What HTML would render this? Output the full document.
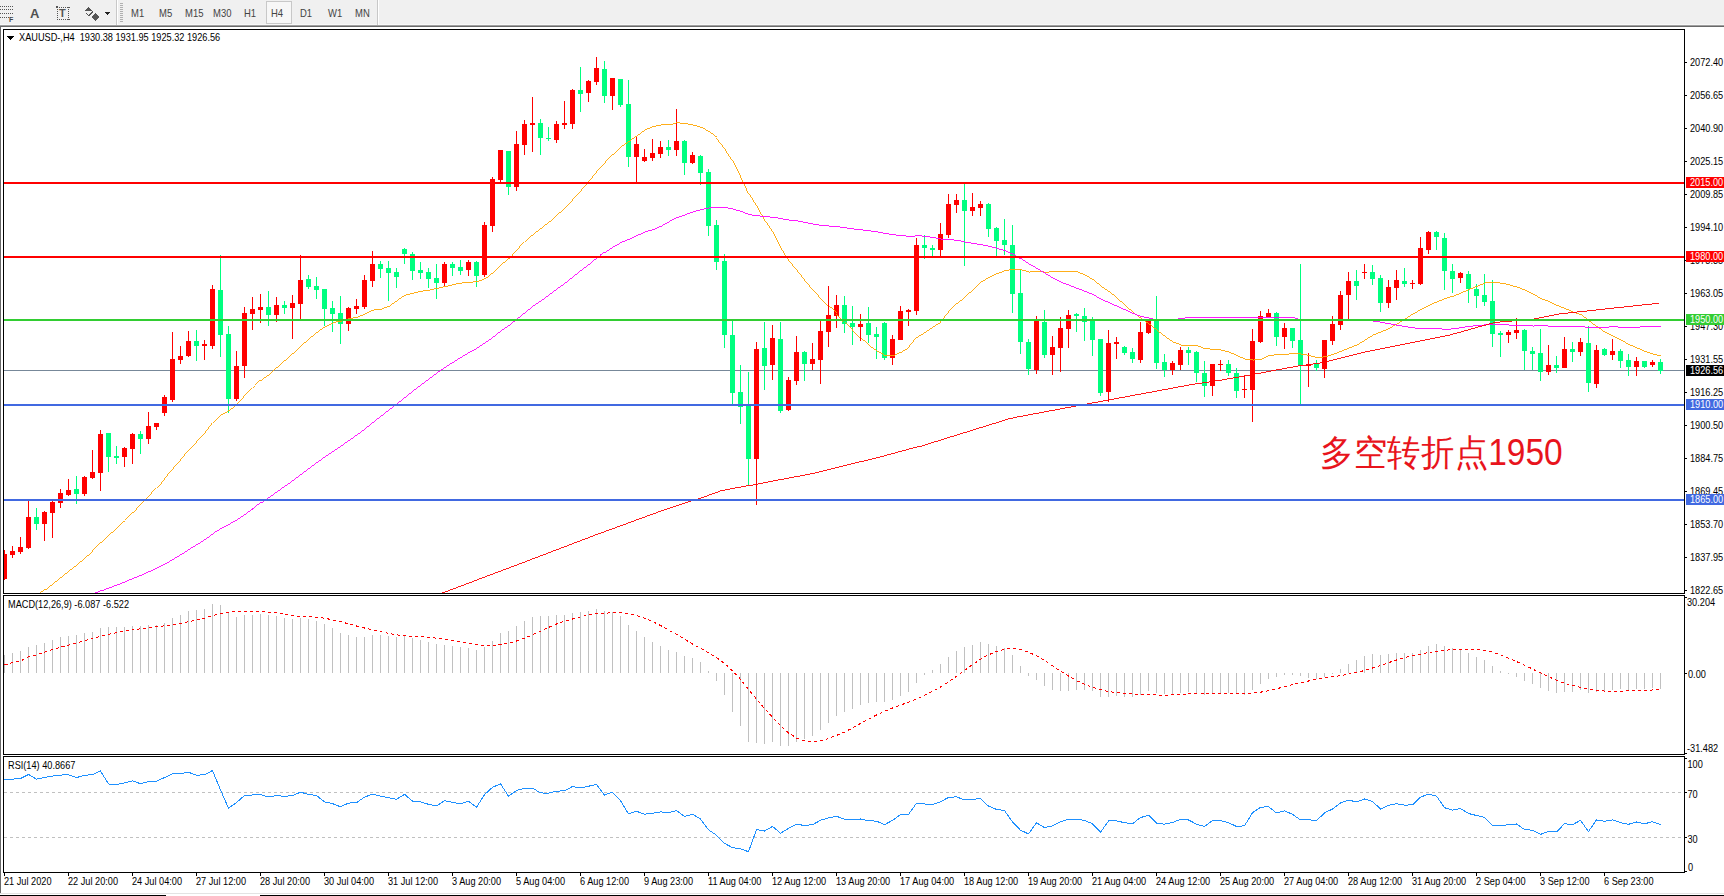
<!DOCTYPE html>
<html><head><meta charset="utf-8"><title>XAUUSD H4</title>
<style>html,body{margin:0;padding:0;width:1724px;height:896px;overflow:hidden;background:#fff;font-family:"Liberation Sans",sans-serif;}
svg text{shape-rendering:auto;}</style></head>
<body><svg width="1724" height="896" viewBox="0 0 1724 896" shape-rendering="crispEdges" style="display:block"><rect x="0" y="0" width="1724" height="896" fill="#ffffff" />
<rect x="0" y="0" width="1724" height="24" fill="#f0f0f0" />
<rect x="0" y="24" width="1724" height="1" fill="#f8f8f8" />
<rect x="0" y="25" width="1724" height="1" fill="#a0a0a0" />
<rect x="0" y="26" width="1724" height="1" fill="#696969" />
<rect x="0" y="26" width="1" height="867" fill="#696969" />
<rect x="0" y="893" width="1724" height="1" fill="#e3e3e3" />
<rect x="0" y="894" width="1724" height="1" fill="#ffffff" />
<rect x="0" y="895" width="166" height="1" fill="#000000" />
<rect x="260" y="895" width="1464" height="1" fill="#000000" />
<rect x="0" y="6" width="1" height="1" fill="#555" />
<rect x="2" y="6" width="1" height="1" fill="#555" />
<rect x="4" y="6" width="1" height="1" fill="#555" />
<rect x="6" y="6" width="1" height="1" fill="#555" />
<rect x="8" y="6" width="1" height="1" fill="#555" />
<rect x="10" y="6" width="1" height="1" fill="#555" />
<rect x="12" y="6" width="1" height="1" fill="#555" />
<rect x="0" y="9" width="1" height="1" fill="#555" />
<rect x="2" y="9" width="1" height="1" fill="#555" />
<rect x="4" y="9" width="1" height="1" fill="#555" />
<rect x="6" y="9" width="1" height="1" fill="#555" />
<rect x="8" y="9" width="1" height="1" fill="#555" />
<rect x="10" y="9" width="1" height="1" fill="#555" />
<rect x="12" y="9" width="1" height="1" fill="#555" />
<rect x="0" y="13" width="1" height="1" fill="#555" />
<rect x="2" y="13" width="1" height="1" fill="#555" />
<rect x="4" y="13" width="1" height="1" fill="#555" />
<rect x="6" y="13" width="1" height="1" fill="#555" />
<rect x="8" y="13" width="1" height="1" fill="#555" />
<rect x="10" y="13" width="1" height="1" fill="#555" />
<rect x="12" y="13" width="1" height="1" fill="#555" />
<rect x="0" y="17" width="1" height="1" fill="#555" />
<rect x="2" y="17" width="1" height="1" fill="#555" />
<rect x="4" y="17" width="1" height="1" fill="#555" />
<rect x="6" y="17" width="1" height="1" fill="#555" />
<rect x="8" y="17" width="1" height="1" fill="#555" />
<text font-family="Liberation Sans" font-size="7" fill="#444" transform="translate(9,22) scale(1,1)" font-weight="bold">F</text>
<text font-family="Liberation Sans" font-size="13" fill="#505050" transform="translate(30,18) scale(1,1)" font-weight="bold">A</text>
<rect x="57" y="7" width="1" height="1" fill="#555" />
<rect x="57" y="19" width="1" height="1" fill="#555" />
<rect x="59" y="7" width="1" height="1" fill="#555" />
<rect x="59" y="19" width="1" height="1" fill="#555" />
<rect x="61" y="7" width="1" height="1" fill="#555" />
<rect x="61" y="19" width="1" height="1" fill="#555" />
<rect x="63" y="7" width="1" height="1" fill="#555" />
<rect x="63" y="19" width="1" height="1" fill="#555" />
<rect x="65" y="7" width="1" height="1" fill="#555" />
<rect x="65" y="19" width="1" height="1" fill="#555" />
<rect x="67" y="7" width="1" height="1" fill="#555" />
<rect x="67" y="19" width="1" height="1" fill="#555" />
<rect x="69" y="7" width="1" height="1" fill="#555" />
<rect x="69" y="19" width="1" height="1" fill="#555" />
<rect x="57" y="7" width="1" height="1" fill="#555" />
<rect x="68" y="7" width="1" height="1" fill="#555" />
<rect x="57" y="9" width="1" height="1" fill="#555" />
<rect x="68" y="9" width="1" height="1" fill="#555" />
<rect x="57" y="11" width="1" height="1" fill="#555" />
<rect x="68" y="11" width="1" height="1" fill="#555" />
<rect x="57" y="13" width="1" height="1" fill="#555" />
<rect x="68" y="13" width="1" height="1" fill="#555" />
<rect x="57" y="15" width="1" height="1" fill="#555" />
<rect x="68" y="15" width="1" height="1" fill="#555" />
<rect x="57" y="17" width="1" height="1" fill="#555" />
<rect x="68" y="17" width="1" height="1" fill="#555" />
<rect x="57" y="19" width="1" height="1" fill="#555" />
<rect x="68" y="19" width="1" height="1" fill="#555" />
<rect x="56" y="6" width="2" height="2" fill="#555" />
<text font-family="Liberation Sans" font-size="11" fill="#555" transform="translate(59,17) scale(1,1)" font-weight="bold">T</text>
<path d="M84 11 L88 7 L92 11 Z M91 17 L95 13 L99 17 L95 21 Z" fill="#555"/>
<path d="M86 13 L89 16 L93 11" stroke="#555" stroke-width="1.3" fill="none"/>
<path d="M104 12 L110 12 L107 15 Z" fill="#222"/>
<rect x="116" y="0" width="1" height="25" fill="#c8c8c8" />
<rect x="117" y="0" width="1" height="25" fill="#ffffff" />
<rect x="120" y="3" width="3" height="1" fill="#b0b0b0" />
<rect x="120" y="5" width="3" height="1" fill="#b0b0b0" />
<rect x="120" y="7" width="3" height="1" fill="#b0b0b0" />
<rect x="120" y="9" width="3" height="1" fill="#b0b0b0" />
<rect x="120" y="11" width="3" height="1" fill="#b0b0b0" />
<rect x="120" y="13" width="3" height="1" fill="#b0b0b0" />
<rect x="120" y="15" width="3" height="1" fill="#b0b0b0" />
<rect x="120" y="17" width="3" height="1" fill="#b0b0b0" />
<rect x="120" y="19" width="3" height="1" fill="#b0b0b0" />
<rect x="120" y="21" width="3" height="1" fill="#b0b0b0" />
<rect x="266" y="1" width="25" height="22" fill="#f7f7f7" stroke="#c8c8c8" stroke-width="1"/>
<text font-family="Liberation Sans" font-size="10" fill="#444" transform="translate(131,17) scale(0.95,1)" >M1</text>
<text font-family="Liberation Sans" font-size="10" fill="#444" transform="translate(159,17) scale(0.95,1)" >M5</text>
<text font-family="Liberation Sans" font-size="10" fill="#444" transform="translate(185,17) scale(0.95,1)" >M15</text>
<text font-family="Liberation Sans" font-size="10" fill="#444" transform="translate(213,17) scale(0.95,1)" >M30</text>
<text font-family="Liberation Sans" font-size="10" fill="#444" transform="translate(244,17) scale(0.95,1)" >H1</text>
<text font-family="Liberation Sans" font-size="10" fill="#444" transform="translate(271,17) scale(0.95,1)" >H4</text>
<text font-family="Liberation Sans" font-size="10" fill="#444" transform="translate(300,17) scale(0.95,1)" >D1</text>
<text font-family="Liberation Sans" font-size="10" fill="#444" transform="translate(328,17) scale(0.95,1)" >W1</text>
<text font-family="Liberation Sans" font-size="10" fill="#444" transform="translate(355,17) scale(0.95,1)" >MN</text>
<rect x="377" y="0" width="1" height="25" fill="#c8c8c8" />
<rect x="378" y="0" width="1" height="25" fill="#ffffff" />
<defs><clipPath id="cm"><rect x="4" y="30" width="1680" height="563"/></clipPath><clipPath id="cd"><rect x="4" y="596" width="1680" height="158"/></clipPath><clipPath id="cr"><rect x="4" y="757" width="1680" height="115"/></clipPath></defs>
<g clip-path="url(#cm)">
<rect x="4" y="370" width="1680" height="1" fill="#778899" />
<rect x="4" y="550" width="1" height="30" fill="#ff0000"/>
<rect x="2" y="554" width="5" height="25" fill="#ff0000"/>
<rect x="12" y="546" width="1" height="12" fill="#ff0000"/>
<rect x="10" y="551" width="5" height="4" fill="#ff0000"/>
<rect x="20" y="537" width="1" height="17" fill="#ff0000"/>
<rect x="18" y="547" width="5" height="5" fill="#ff0000"/>
<rect x="28" y="501" width="1" height="48" fill="#ff0000"/>
<rect x="26" y="517" width="5" height="31" fill="#ff0000"/>
<rect x="36" y="508" width="1" height="22" fill="#00ff7f"/>
<rect x="34" y="517" width="5" height="7" fill="#00ff7f"/>
<rect x="44" y="511" width="1" height="30" fill="#ff0000"/>
<rect x="42" y="512" width="5" height="12" fill="#ff0000"/>
<rect x="52" y="501" width="1" height="37" fill="#ff0000"/>
<rect x="50" y="502" width="5" height="11" fill="#ff0000"/>
<rect x="60" y="489" width="1" height="19" fill="#ff0000"/>
<rect x="58" y="493" width="5" height="10" fill="#ff0000"/>
<rect x="68" y="479" width="1" height="17" fill="#ff0000"/>
<rect x="66" y="490" width="5" height="5" fill="#ff0000"/>
<rect x="76" y="476" width="1" height="28" fill="#00ff7f"/>
<rect x="74" y="489" width="5" height="5" fill="#00ff7f"/>
<rect x="84" y="476" width="1" height="20" fill="#ff0000"/>
<rect x="82" y="477" width="5" height="17" fill="#ff0000"/>
<rect x="92" y="450" width="1" height="29" fill="#ff0000"/>
<rect x="90" y="472" width="5" height="6" fill="#ff0000"/>
<rect x="100" y="430" width="1" height="61" fill="#ff0000"/>
<rect x="98" y="434" width="5" height="39" fill="#ff0000"/>
<rect x="108" y="433" width="1" height="39" fill="#00ff7f"/>
<rect x="106" y="433" width="5" height="24" fill="#00ff7f"/>
<rect x="116" y="446" width="1" height="18" fill="#00ff7f"/>
<rect x="114" y="456" width="5" height="2" fill="#00ff7f"/>
<rect x="124" y="447" width="1" height="20" fill="#ff0000"/>
<rect x="122" y="448" width="5" height="9" fill="#ff0000"/>
<rect x="132" y="433" width="1" height="31" fill="#ff0000"/>
<rect x="130" y="434" width="5" height="15" fill="#ff0000"/>
<rect x="140" y="431" width="1" height="23" fill="#00ff7f"/>
<rect x="138" y="434" width="5" height="5" fill="#00ff7f"/>
<rect x="148" y="412" width="1" height="32" fill="#ff0000"/>
<rect x="146" y="426" width="5" height="13" fill="#ff0000"/>
<rect x="156" y="423" width="1" height="7" fill="#ff0000"/>
<rect x="154" y="423" width="5" height="4" fill="#ff0000"/>
<rect x="164" y="395" width="1" height="21" fill="#ff0000"/>
<rect x="162" y="397" width="5" height="16" fill="#ff0000"/>
<rect x="172" y="332" width="1" height="70" fill="#ff0000"/>
<rect x="170" y="359" width="5" height="41" fill="#ff0000"/>
<rect x="180" y="346" width="1" height="18" fill="#ff0000"/>
<rect x="178" y="356" width="5" height="4" fill="#ff0000"/>
<rect x="188" y="331" width="1" height="26" fill="#ff0000"/>
<rect x="186" y="341" width="5" height="15" fill="#ff0000"/>
<rect x="196" y="330" width="1" height="31" fill="#00ff7f"/>
<rect x="194" y="341" width="5" height="5" fill="#00ff7f"/>
<rect x="204" y="340" width="1" height="20" fill="#ff0000"/>
<rect x="202" y="344" width="5" height="2" fill="#ff0000"/>
<rect x="212" y="285" width="1" height="64" fill="#ff0000"/>
<rect x="210" y="289" width="5" height="57" fill="#ff0000"/>
<rect x="220" y="255" width="1" height="102" fill="#00ff7f"/>
<rect x="218" y="290" width="5" height="45" fill="#00ff7f"/>
<rect x="228" y="326" width="1" height="87" fill="#00ff7f"/>
<rect x="226" y="334" width="5" height="65" fill="#00ff7f"/>
<rect x="236" y="351" width="1" height="50" fill="#ff0000"/>
<rect x="234" y="366" width="5" height="33" fill="#ff0000"/>
<rect x="244" y="307" width="1" height="71" fill="#ff0000"/>
<rect x="242" y="313" width="5" height="53" fill="#ff0000"/>
<rect x="252" y="297" width="1" height="33" fill="#ff0000"/>
<rect x="250" y="309" width="5" height="5" fill="#ff0000"/>
<rect x="260" y="294" width="1" height="29" fill="#ff0000"/>
<rect x="258" y="307" width="5" height="3" fill="#ff0000"/>
<rect x="268" y="291" width="1" height="35" fill="#00ff7f"/>
<rect x="266" y="307" width="5" height="8" fill="#00ff7f"/>
<rect x="276" y="297" width="1" height="25" fill="#ff0000"/>
<rect x="274" y="305" width="5" height="10" fill="#ff0000"/>
<rect x="284" y="301" width="1" height="13" fill="#00ff7f"/>
<rect x="282" y="305" width="5" height="3" fill="#00ff7f"/>
<rect x="292" y="295" width="1" height="44" fill="#ff0000"/>
<rect x="290" y="303" width="5" height="5" fill="#ff0000"/>
<rect x="300" y="255" width="1" height="64" fill="#ff0000"/>
<rect x="298" y="280" width="5" height="24" fill="#ff0000"/>
<rect x="308" y="275" width="1" height="14" fill="#00ff7f"/>
<rect x="306" y="279" width="5" height="8" fill="#00ff7f"/>
<rect x="316" y="277" width="1" height="22" fill="#00ff7f"/>
<rect x="314" y="286" width="5" height="4" fill="#00ff7f"/>
<rect x="324" y="289" width="1" height="37" fill="#00ff7f"/>
<rect x="322" y="289" width="5" height="20" fill="#00ff7f"/>
<rect x="332" y="301" width="1" height="31" fill="#00ff7f"/>
<rect x="330" y="308" width="5" height="6" fill="#00ff7f"/>
<rect x="340" y="296" width="1" height="48" fill="#00ff7f"/>
<rect x="338" y="313" width="5" height="11" fill="#00ff7f"/>
<rect x="348" y="307" width="1" height="24" fill="#ff0000"/>
<rect x="346" y="308" width="5" height="16" fill="#ff0000"/>
<rect x="356" y="299" width="1" height="15" fill="#ff0000"/>
<rect x="354" y="306" width="5" height="3" fill="#ff0000"/>
<rect x="364" y="275" width="1" height="34" fill="#ff0000"/>
<rect x="362" y="280" width="5" height="27" fill="#ff0000"/>
<rect x="372" y="251" width="1" height="36" fill="#ff0000"/>
<rect x="370" y="264" width="5" height="17" fill="#ff0000"/>
<rect x="380" y="261" width="1" height="17" fill="#00ff7f"/>
<rect x="378" y="264" width="5" height="5" fill="#00ff7f"/>
<rect x="388" y="261" width="1" height="40" fill="#00ff7f"/>
<rect x="386" y="268" width="5" height="5" fill="#00ff7f"/>
<rect x="396" y="268" width="1" height="20" fill="#00ff7f"/>
<rect x="394" y="272" width="5" height="5" fill="#00ff7f"/>
<rect x="404" y="248" width="1" height="16" fill="#00ff7f"/>
<rect x="402" y="249" width="5" height="5" fill="#00ff7f"/>
<rect x="412" y="252" width="1" height="28" fill="#00ff7f"/>
<rect x="410" y="254" width="5" height="17" fill="#00ff7f"/>
<rect x="420" y="262" width="1" height="17" fill="#00ff7f"/>
<rect x="418" y="270" width="5" height="3" fill="#00ff7f"/>
<rect x="428" y="268" width="1" height="20" fill="#00ff7f"/>
<rect x="426" y="272" width="5" height="7" fill="#00ff7f"/>
<rect x="436" y="264" width="1" height="35" fill="#00ff7f"/>
<rect x="434" y="278" width="5" height="5" fill="#00ff7f"/>
<rect x="444" y="262" width="1" height="24" fill="#ff0000"/>
<rect x="442" y="264" width="5" height="19" fill="#ff0000"/>
<rect x="452" y="262" width="1" height="14" fill="#00ff7f"/>
<rect x="450" y="264" width="5" height="4" fill="#00ff7f"/>
<rect x="460" y="260" width="1" height="15" fill="#00ff7f"/>
<rect x="458" y="267" width="5" height="4" fill="#00ff7f"/>
<rect x="468" y="260" width="1" height="16" fill="#ff0000"/>
<rect x="466" y="262" width="5" height="8" fill="#ff0000"/>
<rect x="476" y="261" width="1" height="26" fill="#00ff7f"/>
<rect x="474" y="262" width="5" height="14" fill="#00ff7f"/>
<rect x="484" y="222" width="1" height="55" fill="#ff0000"/>
<rect x="482" y="225" width="5" height="50" fill="#ff0000"/>
<rect x="492" y="177" width="1" height="55" fill="#ff0000"/>
<rect x="490" y="179" width="5" height="47" fill="#ff0000"/>
<rect x="500" y="150" width="1" height="34" fill="#ff0000"/>
<rect x="498" y="150" width="5" height="30" fill="#ff0000"/>
<rect x="508" y="151" width="1" height="44" fill="#00ff7f"/>
<rect x="506" y="151" width="5" height="36" fill="#00ff7f"/>
<rect x="516" y="131" width="1" height="60" fill="#ff0000"/>
<rect x="514" y="144" width="5" height="43" fill="#ff0000"/>
<rect x="524" y="120" width="1" height="35" fill="#ff0000"/>
<rect x="522" y="124" width="5" height="21" fill="#ff0000"/>
<rect x="532" y="97" width="1" height="55" fill="#ff0000"/>
<rect x="530" y="123" width="5" height="2" fill="#ff0000"/>
<rect x="540" y="119" width="1" height="36" fill="#00ff7f"/>
<rect x="538" y="123" width="5" height="15" fill="#00ff7f"/>
<rect x="548" y="127" width="1" height="14" fill="#00ff7f"/>
<rect x="546" y="138" width="5" height="1" fill="#00ff7f"/>
<rect x="556" y="121" width="1" height="22" fill="#ff0000"/>
<rect x="554" y="124" width="5" height="16" fill="#ff0000"/>
<rect x="564" y="101" width="1" height="28" fill="#ff0000"/>
<rect x="562" y="123" width="5" height="2" fill="#ff0000"/>
<rect x="572" y="89" width="1" height="40" fill="#ff0000"/>
<rect x="570" y="90" width="5" height="34" fill="#ff0000"/>
<rect x="580" y="67" width="1" height="45" fill="#00ff7f"/>
<rect x="578" y="90" width="5" height="4" fill="#00ff7f"/>
<rect x="588" y="80" width="1" height="22" fill="#ff0000"/>
<rect x="586" y="81" width="5" height="12" fill="#ff0000"/>
<rect x="596" y="57" width="1" height="28" fill="#ff0000"/>
<rect x="594" y="68" width="5" height="14" fill="#ff0000"/>
<rect x="604" y="61" width="1" height="42" fill="#00ff7f"/>
<rect x="602" y="69" width="5" height="27" fill="#00ff7f"/>
<rect x="612" y="78" width="1" height="32" fill="#ff0000"/>
<rect x="610" y="78" width="5" height="18" fill="#ff0000"/>
<rect x="620" y="79" width="1" height="28" fill="#00ff7f"/>
<rect x="618" y="79" width="5" height="26" fill="#00ff7f"/>
<rect x="628" y="80" width="1" height="87" fill="#00ff7f"/>
<rect x="626" y="104" width="5" height="53" fill="#00ff7f"/>
<rect x="636" y="137" width="1" height="45" fill="#ff0000"/>
<rect x="634" y="144" width="5" height="13" fill="#ff0000"/>
<rect x="644" y="149" width="1" height="13" fill="#ff0000"/>
<rect x="642" y="157" width="5" height="4" fill="#ff0000"/>
<rect x="652" y="139" width="1" height="22" fill="#ff0000"/>
<rect x="650" y="153" width="5" height="5" fill="#ff0000"/>
<rect x="660" y="141" width="1" height="17" fill="#ff0000"/>
<rect x="658" y="147" width="5" height="7" fill="#ff0000"/>
<rect x="668" y="140" width="1" height="16" fill="#00ff7f"/>
<rect x="666" y="147" width="5" height="3" fill="#00ff7f"/>
<rect x="676" y="109" width="1" height="47" fill="#ff0000"/>
<rect x="674" y="141" width="5" height="9" fill="#ff0000"/>
<rect x="684" y="140" width="1" height="35" fill="#00ff7f"/>
<rect x="682" y="141" width="5" height="22" fill="#00ff7f"/>
<rect x="692" y="152" width="1" height="12" fill="#ff0000"/>
<rect x="690" y="155" width="5" height="8" fill="#ff0000"/>
<rect x="700" y="155" width="1" height="30" fill="#00ff7f"/>
<rect x="698" y="156" width="5" height="17" fill="#00ff7f"/>
<rect x="708" y="169" width="1" height="67" fill="#00ff7f"/>
<rect x="706" y="172" width="5" height="54" fill="#00ff7f"/>
<rect x="716" y="220" width="1" height="50" fill="#00ff7f"/>
<rect x="714" y="225" width="5" height="37" fill="#00ff7f"/>
<rect x="724" y="254" width="1" height="94" fill="#00ff7f"/>
<rect x="722" y="261" width="5" height="74" fill="#00ff7f"/>
<rect x="732" y="321" width="1" height="83" fill="#00ff7f"/>
<rect x="730" y="335" width="5" height="58" fill="#00ff7f"/>
<rect x="740" y="365" width="1" height="59" fill="#00ff7f"/>
<rect x="738" y="392" width="5" height="15" fill="#00ff7f"/>
<rect x="748" y="372" width="1" height="113" fill="#00ff7f"/>
<rect x="746" y="405" width="5" height="54" fill="#00ff7f"/>
<rect x="756" y="342" width="1" height="163" fill="#ff0000"/>
<rect x="754" y="349" width="5" height="110" fill="#ff0000"/>
<rect x="764" y="322" width="1" height="68" fill="#00ff7f"/>
<rect x="762" y="348" width="5" height="18" fill="#00ff7f"/>
<rect x="772" y="325" width="1" height="55" fill="#ff0000"/>
<rect x="770" y="338" width="5" height="27" fill="#ff0000"/>
<rect x="780" y="322" width="1" height="91" fill="#00ff7f"/>
<rect x="778" y="339" width="5" height="72" fill="#00ff7f"/>
<rect x="788" y="377" width="1" height="34" fill="#ff0000"/>
<rect x="786" y="380" width="5" height="30" fill="#ff0000"/>
<rect x="796" y="336" width="1" height="49" fill="#ff0000"/>
<rect x="794" y="352" width="5" height="29" fill="#ff0000"/>
<rect x="804" y="351" width="1" height="30" fill="#00ff7f"/>
<rect x="802" y="352" width="5" height="12" fill="#00ff7f"/>
<rect x="812" y="343" width="1" height="27" fill="#ff0000"/>
<rect x="810" y="359" width="5" height="5" fill="#ff0000"/>
<rect x="820" y="321" width="1" height="63" fill="#ff0000"/>
<rect x="818" y="331" width="5" height="29" fill="#ff0000"/>
<rect x="828" y="286" width="1" height="61" fill="#ff0000"/>
<rect x="826" y="315" width="5" height="17" fill="#ff0000"/>
<rect x="836" y="295" width="1" height="33" fill="#ff0000"/>
<rect x="834" y="305" width="5" height="11" fill="#ff0000"/>
<rect x="844" y="296" width="1" height="37" fill="#00ff7f"/>
<rect x="842" y="305" width="5" height="19" fill="#00ff7f"/>
<rect x="852" y="306" width="1" height="39" fill="#00ff7f"/>
<rect x="850" y="323" width="5" height="4" fill="#00ff7f"/>
<rect x="860" y="314" width="1" height="27" fill="#ff0000"/>
<rect x="858" y="324" width="5" height="3" fill="#ff0000"/>
<rect x="868" y="307" width="1" height="36" fill="#00ff7f"/>
<rect x="866" y="323" width="5" height="12" fill="#00ff7f"/>
<rect x="876" y="327" width="1" height="32" fill="#00ff7f"/>
<rect x="874" y="334" width="5" height="3" fill="#00ff7f"/>
<rect x="884" y="322" width="1" height="38" fill="#00ff7f"/>
<rect x="882" y="323" width="5" height="35" fill="#00ff7f"/>
<rect x="892" y="335" width="1" height="30" fill="#ff0000"/>
<rect x="890" y="339" width="5" height="19" fill="#ff0000"/>
<rect x="900" y="306" width="1" height="34" fill="#ff0000"/>
<rect x="898" y="311" width="5" height="29" fill="#ff0000"/>
<rect x="908" y="309" width="1" height="17" fill="#ff0000"/>
<rect x="906" y="310" width="5" height="2" fill="#ff0000"/>
<rect x="916" y="238" width="1" height="77" fill="#ff0000"/>
<rect x="914" y="245" width="5" height="66" fill="#ff0000"/>
<rect x="924" y="235" width="1" height="24" fill="#00ff7f"/>
<rect x="922" y="245" width="5" height="3" fill="#00ff7f"/>
<rect x="932" y="245" width="1" height="11" fill="#00ff7f"/>
<rect x="930" y="248" width="5" height="2" fill="#00ff7f"/>
<rect x="940" y="223" width="1" height="33" fill="#ff0000"/>
<rect x="938" y="234" width="5" height="16" fill="#ff0000"/>
<rect x="948" y="194" width="1" height="44" fill="#ff0000"/>
<rect x="946" y="204" width="5" height="31" fill="#ff0000"/>
<rect x="956" y="194" width="1" height="19" fill="#ff0000"/>
<rect x="954" y="200" width="5" height="5" fill="#ff0000"/>
<rect x="964" y="184" width="1" height="82" fill="#00ff7f"/>
<rect x="962" y="200" width="5" height="11" fill="#00ff7f"/>
<rect x="972" y="193" width="1" height="23" fill="#ff0000"/>
<rect x="970" y="207" width="5" height="4" fill="#ff0000"/>
<rect x="980" y="201" width="1" height="15" fill="#ff0000"/>
<rect x="978" y="204" width="5" height="4" fill="#ff0000"/>
<rect x="988" y="203" width="1" height="34" fill="#00ff7f"/>
<rect x="986" y="204" width="5" height="25" fill="#00ff7f"/>
<rect x="996" y="227" width="1" height="29" fill="#00ff7f"/>
<rect x="994" y="228" width="5" height="13" fill="#00ff7f"/>
<rect x="1004" y="219" width="1" height="36" fill="#00ff7f"/>
<rect x="1002" y="240" width="5" height="5" fill="#00ff7f"/>
<rect x="1012" y="225" width="1" height="88" fill="#00ff7f"/>
<rect x="1010" y="245" width="5" height="49" fill="#00ff7f"/>
<rect x="1020" y="269" width="1" height="85" fill="#00ff7f"/>
<rect x="1018" y="293" width="5" height="49" fill="#00ff7f"/>
<rect x="1028" y="339" width="1" height="36" fill="#00ff7f"/>
<rect x="1026" y="342" width="5" height="27" fill="#00ff7f"/>
<rect x="1036" y="316" width="1" height="58" fill="#ff0000"/>
<rect x="1034" y="321" width="5" height="49" fill="#ff0000"/>
<rect x="1044" y="310" width="1" height="48" fill="#00ff7f"/>
<rect x="1042" y="322" width="5" height="33" fill="#00ff7f"/>
<rect x="1052" y="336" width="1" height="39" fill="#ff0000"/>
<rect x="1050" y="347" width="5" height="8" fill="#ff0000"/>
<rect x="1060" y="317" width="1" height="55" fill="#ff0000"/>
<rect x="1058" y="328" width="5" height="20" fill="#ff0000"/>
<rect x="1068" y="310" width="1" height="38" fill="#ff0000"/>
<rect x="1066" y="315" width="5" height="14" fill="#ff0000"/>
<rect x="1076" y="313" width="1" height="19" fill="#00ff7f"/>
<rect x="1074" y="314" width="5" height="2" fill="#00ff7f"/>
<rect x="1084" y="308" width="1" height="33" fill="#00ff7f"/>
<rect x="1082" y="316" width="5" height="6" fill="#00ff7f"/>
<rect x="1092" y="317" width="1" height="39" fill="#00ff7f"/>
<rect x="1090" y="321" width="5" height="19" fill="#00ff7f"/>
<rect x="1100" y="339" width="1" height="57" fill="#00ff7f"/>
<rect x="1098" y="339" width="5" height="54" fill="#00ff7f"/>
<rect x="1108" y="330" width="1" height="72" fill="#ff0000"/>
<rect x="1106" y="343" width="5" height="49" fill="#ff0000"/>
<rect x="1116" y="337" width="1" height="22" fill="#ff0000"/>
<rect x="1114" y="342" width="5" height="2" fill="#ff0000"/>
<rect x="1124" y="346" width="1" height="9" fill="#00ff7f"/>
<rect x="1122" y="347" width="5" height="6" fill="#00ff7f"/>
<rect x="1132" y="348" width="1" height="15" fill="#00ff7f"/>
<rect x="1130" y="352" width="5" height="7" fill="#00ff7f"/>
<rect x="1140" y="322" width="1" height="41" fill="#ff0000"/>
<rect x="1138" y="332" width="5" height="28" fill="#ff0000"/>
<rect x="1148" y="320" width="1" height="14" fill="#ff0000"/>
<rect x="1146" y="321" width="5" height="12" fill="#ff0000"/>
<rect x="1156" y="296" width="1" height="73" fill="#00ff7f"/>
<rect x="1154" y="321" width="5" height="42" fill="#00ff7f"/>
<rect x="1164" y="354" width="1" height="23" fill="#00ff7f"/>
<rect x="1162" y="362" width="5" height="8" fill="#00ff7f"/>
<rect x="1172" y="361" width="1" height="14" fill="#ff0000"/>
<rect x="1170" y="363" width="5" height="7" fill="#ff0000"/>
<rect x="1180" y="347" width="1" height="23" fill="#ff0000"/>
<rect x="1178" y="350" width="5" height="15" fill="#ff0000"/>
<rect x="1188" y="347" width="1" height="18" fill="#00ff7f"/>
<rect x="1186" y="350" width="5" height="3" fill="#00ff7f"/>
<rect x="1196" y="351" width="1" height="31" fill="#00ff7f"/>
<rect x="1194" y="352" width="5" height="21" fill="#00ff7f"/>
<rect x="1204" y="361" width="1" height="36" fill="#00ff7f"/>
<rect x="1202" y="373" width="5" height="13" fill="#00ff7f"/>
<rect x="1212" y="364" width="1" height="32" fill="#ff0000"/>
<rect x="1210" y="364" width="5" height="22" fill="#ff0000"/>
<rect x="1220" y="360" width="1" height="11" fill="#ff0000"/>
<rect x="1218" y="364" width="5" height="1" fill="#ff0000"/>
<rect x="1228" y="360" width="1" height="16" fill="#00ff7f"/>
<rect x="1226" y="364" width="5" height="9" fill="#00ff7f"/>
<rect x="1236" y="368" width="1" height="30" fill="#00ff7f"/>
<rect x="1234" y="373" width="5" height="18" fill="#00ff7f"/>
<rect x="1244" y="376" width="1" height="22" fill="#ff0000"/>
<rect x="1242" y="389" width="5" height="1" fill="#ff0000"/>
<rect x="1252" y="329" width="1" height="93" fill="#ff0000"/>
<rect x="1250" y="341" width="5" height="49" fill="#ff0000"/>
<rect x="1260" y="311" width="1" height="32" fill="#ff0000"/>
<rect x="1258" y="316" width="5" height="26" fill="#ff0000"/>
<rect x="1268" y="309" width="1" height="8" fill="#ff0000"/>
<rect x="1266" y="313" width="5" height="4" fill="#ff0000"/>
<rect x="1276" y="312" width="1" height="34" fill="#00ff7f"/>
<rect x="1274" y="313" width="5" height="24" fill="#00ff7f"/>
<rect x="1284" y="323" width="1" height="26" fill="#ff0000"/>
<rect x="1282" y="328" width="5" height="9" fill="#ff0000"/>
<rect x="1292" y="328" width="1" height="20" fill="#00ff7f"/>
<rect x="1290" y="328" width="5" height="13" fill="#00ff7f"/>
<rect x="1300" y="264" width="1" height="140" fill="#00ff7f"/>
<rect x="1298" y="340" width="5" height="25" fill="#00ff7f"/>
<rect x="1308" y="353" width="1" height="34" fill="#ff0000"/>
<rect x="1306" y="364" width="5" height="2" fill="#ff0000"/>
<rect x="1316" y="360" width="1" height="11" fill="#00ff7f"/>
<rect x="1314" y="363" width="5" height="5" fill="#00ff7f"/>
<rect x="1324" y="340" width="1" height="38" fill="#ff0000"/>
<rect x="1322" y="340" width="5" height="29" fill="#ff0000"/>
<rect x="1332" y="316" width="1" height="29" fill="#ff0000"/>
<rect x="1330" y="324" width="5" height="17" fill="#ff0000"/>
<rect x="1340" y="291" width="1" height="39" fill="#ff0000"/>
<rect x="1338" y="295" width="5" height="30" fill="#ff0000"/>
<rect x="1348" y="272" width="1" height="48" fill="#ff0000"/>
<rect x="1346" y="281" width="5" height="14" fill="#ff0000"/>
<rect x="1356" y="270" width="1" height="30" fill="#00ff7f"/>
<rect x="1354" y="281" width="5" height="5" fill="#00ff7f"/>
<rect x="1364" y="264" width="1" height="15" fill="#ff0000"/>
<rect x="1362" y="272" width="5" height="1" fill="#ff0000"/>
<rect x="1372" y="265" width="1" height="20" fill="#00ff7f"/>
<rect x="1370" y="272" width="5" height="7" fill="#00ff7f"/>
<rect x="1380" y="275" width="1" height="37" fill="#00ff7f"/>
<rect x="1378" y="278" width="5" height="25" fill="#00ff7f"/>
<rect x="1388" y="280" width="1" height="28" fill="#ff0000"/>
<rect x="1386" y="287" width="5" height="16" fill="#ff0000"/>
<rect x="1396" y="270" width="1" height="30" fill="#ff0000"/>
<rect x="1394" y="280" width="5" height="8" fill="#ff0000"/>
<rect x="1404" y="268" width="1" height="19" fill="#00ff7f"/>
<rect x="1402" y="281" width="5" height="3" fill="#00ff7f"/>
<rect x="1412" y="280" width="1" height="9" fill="#ff0000"/>
<rect x="1410" y="283" width="5" height="1" fill="#ff0000"/>
<rect x="1420" y="237" width="1" height="48" fill="#ff0000"/>
<rect x="1418" y="248" width="5" height="36" fill="#ff0000"/>
<rect x="1428" y="231" width="1" height="23" fill="#ff0000"/>
<rect x="1426" y="232" width="5" height="18" fill="#ff0000"/>
<rect x="1436" y="231" width="1" height="19" fill="#00ff7f"/>
<rect x="1434" y="232" width="5" height="5" fill="#00ff7f"/>
<rect x="1444" y="233" width="1" height="57" fill="#00ff7f"/>
<rect x="1442" y="238" width="5" height="33" fill="#00ff7f"/>
<rect x="1452" y="264" width="1" height="29" fill="#00ff7f"/>
<rect x="1450" y="271" width="5" height="8" fill="#00ff7f"/>
<rect x="1460" y="272" width="1" height="11" fill="#ff0000"/>
<rect x="1458" y="273" width="5" height="5" fill="#ff0000"/>
<rect x="1468" y="271" width="1" height="32" fill="#00ff7f"/>
<rect x="1466" y="274" width="5" height="15" fill="#00ff7f"/>
<rect x="1476" y="284" width="1" height="24" fill="#00ff7f"/>
<rect x="1474" y="289" width="5" height="7" fill="#00ff7f"/>
<rect x="1484" y="274" width="1" height="32" fill="#00ff7f"/>
<rect x="1482" y="295" width="5" height="7" fill="#00ff7f"/>
<rect x="1492" y="280" width="1" height="67" fill="#00ff7f"/>
<rect x="1490" y="301" width="5" height="33" fill="#00ff7f"/>
<rect x="1500" y="331" width="1" height="26" fill="#00ff7f"/>
<rect x="1498" y="333" width="5" height="2" fill="#00ff7f"/>
<rect x="1508" y="330" width="1" height="13" fill="#ff0000"/>
<rect x="1506" y="332" width="5" height="3" fill="#ff0000"/>
<rect x="1516" y="318" width="1" height="21" fill="#ff0000"/>
<rect x="1514" y="330" width="5" height="3" fill="#ff0000"/>
<rect x="1524" y="329" width="1" height="41" fill="#00ff7f"/>
<rect x="1522" y="330" width="5" height="21" fill="#00ff7f"/>
<rect x="1532" y="347" width="1" height="23" fill="#00ff7f"/>
<rect x="1530" y="351" width="5" height="3" fill="#00ff7f"/>
<rect x="1540" y="329" width="1" height="52" fill="#00ff7f"/>
<rect x="1538" y="353" width="5" height="19" fill="#00ff7f"/>
<rect x="1548" y="345" width="1" height="30" fill="#ff0000"/>
<rect x="1546" y="365" width="5" height="7" fill="#ff0000"/>
<rect x="1556" y="356" width="1" height="17" fill="#00ff7f"/>
<rect x="1554" y="365" width="5" height="3" fill="#00ff7f"/>
<rect x="1564" y="337" width="1" height="31" fill="#ff0000"/>
<rect x="1562" y="349" width="5" height="19" fill="#ff0000"/>
<rect x="1572" y="342" width="1" height="20" fill="#00ff7f"/>
<rect x="1570" y="349" width="5" height="3" fill="#00ff7f"/>
<rect x="1580" y="338" width="1" height="18" fill="#ff0000"/>
<rect x="1578" y="342" width="5" height="10" fill="#ff0000"/>
<rect x="1588" y="326" width="1" height="66" fill="#00ff7f"/>
<rect x="1586" y="343" width="5" height="40" fill="#00ff7f"/>
<rect x="1596" y="345" width="1" height="43" fill="#ff0000"/>
<rect x="1594" y="350" width="5" height="34" fill="#ff0000"/>
<rect x="1604" y="348" width="1" height="8" fill="#00ff7f"/>
<rect x="1602" y="349" width="5" height="6" fill="#00ff7f"/>
<rect x="1612" y="339" width="1" height="21" fill="#ff0000"/>
<rect x="1610" y="351" width="5" height="4" fill="#ff0000"/>
<rect x="1620" y="349" width="1" height="19" fill="#00ff7f"/>
<rect x="1618" y="351" width="5" height="10" fill="#00ff7f"/>
<rect x="1628" y="354" width="1" height="22" fill="#00ff7f"/>
<rect x="1626" y="360" width="5" height="7" fill="#00ff7f"/>
<rect x="1636" y="357" width="1" height="19" fill="#ff0000"/>
<rect x="1634" y="361" width="5" height="6" fill="#ff0000"/>
<rect x="1644" y="361" width="1" height="7" fill="#00ff7f"/>
<rect x="1642" y="361" width="5" height="6" fill="#00ff7f"/>
<rect x="1652" y="360" width="1" height="7" fill="#ff0000"/>
<rect x="1650" y="362" width="5" height="3" fill="#ff0000"/>
<rect x="1660" y="359" width="1" height="15" fill="#00ff7f"/>
<rect x="1658" y="362" width="5" height="9" fill="#00ff7f"/>
<polyline points="4.5,615.8 12.5,611.3 20.5,606.8 28.5,600.9 36.5,595.6 44.5,589.8 52.5,583.6 60.5,577.2 68.5,570.7 76.5,564.5 84.5,557.7 92.5,550.8 100.5,542.2 108.5,534.8 116.5,527.6 124.5,520.1 132.5,512.0 140.5,504.3 148.5,496.1 156.5,487.8 164.5,478.5 172.5,469.2 180.5,460.0 188.5,450.1 196.5,442.0 204.5,433.4 212.5,422.8 220.5,414.9 228.5,410.4 236.5,404.5 244.5,395.9 252.5,387.9 260.5,380.0 268.5,374.3 276.5,367.1 284.5,360.0 292.5,353.0 300.5,345.7 308.5,338.5 316.5,332.0 324.5,326.6 332.5,322.6 340.5,321.0 348.5,318.7 356.5,317.0 364.5,313.9 372.5,310.0 380.5,309.1 388.5,306.1 396.5,300.3 404.5,295.0 412.5,293.0 420.5,291.3 428.5,290.0 436.5,288.4 444.5,286.5 452.5,284.6 460.5,283.0 468.5,282.2 476.5,281.7 484.5,278.6 492.5,272.4 500.5,264.6 508.5,258.0 516.5,250.2 524.5,241.6 532.5,234.1 540.5,228.1 548.5,221.9 556.5,214.8 564.5,207.5 572.5,199.7 580.5,191.2 588.5,182.1 596.5,172.0 604.5,163.1 612.5,154.3 620.5,146.5 628.5,141.1 636.5,135.5 644.5,129.8 652.5,126.4 660.5,124.9 668.5,124.9 676.5,122.7 684.5,123.6 692.5,125.0 700.5,127.4 708.5,131.6 716.5,137.5 724.5,147.5 732.5,160.4 740.5,175.5 748.5,192.9 756.5,205.6 764.5,219.8 772.5,231.3 780.5,247.2 788.5,260.3 796.5,269.6 804.5,280.0 812.5,289.7 820.5,298.1 828.5,306.1 836.5,313.5 844.5,322.2 852.5,330.0 860.5,338.1 868.5,345.8 876.5,351.1 884.5,355.7 892.5,355.9 900.5,352.0 908.5,347.3 916.5,337.1 924.5,332.3 932.5,326.8 940.5,321.9 948.5,312.0 956.5,303.4 964.5,296.7 972.5,289.2 980.5,281.9 988.5,277.0 996.5,273.5 1004.5,270.6 1012.5,269.2 1020.5,269.9 1028.5,272.0 1036.5,271.4 1044.5,272.2 1052.5,271.7 1060.5,271.2 1068.5,271.4 1076.5,271.7 1084.5,275.3 1092.5,279.7 1100.5,286.5 1108.5,291.7 1116.5,298.3 1124.5,305.6 1132.5,312.6 1140.5,318.6 1148.5,324.1 1156.5,330.5 1164.5,336.7 1172.5,342.3 1180.5,345.0 1188.5,345.5 1196.5,345.7 1204.5,348.8 1212.5,349.2 1220.5,350.0 1228.5,352.1 1236.5,355.8 1244.5,359.2 1252.5,360.1 1260.5,359.0 1268.5,355.2 1276.5,354.9 1284.5,354.2 1292.5,353.7 1300.5,354.0 1308.5,355.5 1316.5,357.7 1324.5,356.6 1332.5,354.4 1340.5,351.2 1348.5,347.9 1356.5,344.7 1364.5,339.9 1372.5,334.8 1380.5,331.9 1388.5,328.2 1396.5,323.8 1404.5,318.7 1412.5,313.7 1420.5,309.2 1428.5,305.2 1436.5,301.6 1444.5,298.5 1452.5,296.1 1460.5,292.9 1468.5,289.3 1476.5,286.0 1484.5,282.9 1492.5,282.6 1500.5,283.1 1508.5,284.9 1516.5,287.2 1524.5,290.3 1532.5,294.2 1540.5,298.7 1548.5,301.6 1556.5,305.5 1564.5,308.8 1572.5,312.0 1580.5,314.8 1588.5,321.2 1596.5,326.9 1604.5,332.5 1612.5,336.3 1620.5,340.2 1628.5,344.7 1636.5,348.1 1644.5,351.5 1652.5,354.3 1660.5,356.1" fill="none" stroke="#ffa500" stroke-width="0.9"/>
<polyline points="4.5,617.3 12.5,616.0 20.5,614.6 28.5,612.7 36.5,610.9 44.5,608.9 52.5,606.7 60.5,604.3 68.5,601.9 76.5,599.6 84.5,596.9 92.5,594.2 100.5,590.8 108.5,587.8 116.5,584.8 124.5,581.7 132.5,578.3 140.5,575.0 148.5,571.5 156.5,567.9 164.5,563.8 172.5,559.1 180.5,554.3 188.5,549.2 196.5,544.3 204.5,539.3 212.5,533.3 220.5,528.1 228.5,524.1 236.5,519.5 244.5,514.0 252.5,508.4 260.5,502.7 268.5,497.2 276.5,491.5 284.5,485.9 292.5,480.2 300.5,474.1 308.5,468.1 316.5,462.2 324.5,456.6 332.5,451.1 340.5,445.8 348.5,440.2 356.5,434.6 364.5,428.5 372.5,422.1 380.5,415.8 388.5,409.6 396.5,403.5 404.5,397.0 412.5,390.7 420.5,384.5 428.5,378.5 436.5,372.5 444.5,367.2 452.5,362.0 460.5,357.0 468.5,352.4 476.5,347.9 484.5,342.7 492.5,336.8 500.5,330.5 508.5,325.0 516.5,318.7 524.5,312.3 532.5,305.9 540.5,300.5 548.5,294.7 556.5,288.7 564.5,282.8 572.5,276.5 580.5,270.2 588.5,264.0 596.5,257.5 604.5,252.0 612.5,246.9 620.5,242.4 628.5,239.0 636.5,235.3 644.5,231.9 652.5,229.5 660.5,226.1 668.5,221.5 676.5,217.4 684.5,214.7 692.5,211.9 700.5,209.5 708.5,207.9 716.5,207.1 724.5,207.6 732.5,209.2 740.5,211.5 748.5,214.6 756.5,215.7 764.5,216.7 772.5,217.2 780.5,218.8 788.5,220.1 796.5,220.9 804.5,222.4 812.5,224.2 820.5,225.3 828.5,226.1 836.5,226.6 844.5,227.8 852.5,228.9 860.5,229.8 868.5,230.8 876.5,231.8 884.5,233.5 892.5,234.8 900.5,235.5 908.5,236.4 916.5,235.8 924.5,236.2 932.5,237.5 940.5,239.1 948.5,239.4 956.5,240.4 964.5,242.0 972.5,243.5 980.5,244.7 988.5,246.3 996.5,248.5 1004.5,250.7 1012.5,254.4 1020.5,258.9 1028.5,264.1 1036.5,268.7 1044.5,273.4 1052.5,278.3 1060.5,282.4 1068.5,285.3 1076.5,288.4 1084.5,291.4 1092.5,294.8 1100.5,299.3 1108.5,302.8 1116.5,306.4 1124.5,309.9 1132.5,313.6 1140.5,316.5 1148.5,318.2 1156.5,320.3 1164.5,320.3 1172.5,320.0 1180.5,318.3 1188.5,317.6 1196.5,317.6 1204.5,317.6 1212.5,317.6 1220.5,317.6 1228.5,317.6 1236.5,317.6 1244.5,317.6 1252.5,317.6 1260.5,317.6 1268.5,317.6 1276.5,317.6 1284.5,317.6 1292.5,317.6 1300.5,320.0 1308.5,320.0 1316.5,320.0 1324.5,320.0 1332.5,320.0 1340.5,320.0 1348.5,320.0 1356.5,320.0 1364.5,320.0 1372.5,321.0 1380.5,322.3 1388.5,323.8 1396.5,325.2 1404.5,326.6 1412.5,327.9 1420.5,328.7 1428.5,328.8 1436.5,328.7 1444.5,329.2 1452.5,328.9 1460.5,327.7 1468.5,326.2 1476.5,325.8 1484.5,324.8 1492.5,324.6 1500.5,324.7 1508.5,325.0 1516.5,325.3 1524.5,325.8 1532.5,326.0 1540.5,325.7 1548.5,326.1 1556.5,326.5 1564.5,326.5 1572.5,326.3 1580.5,326.5 1588.5,327.6 1596.5,327.4 1604.5,327.1 1612.5,326.9 1620.5,327.1 1628.5,327.4 1636.5,327.1 1644.5,326.8 1652.5,326.8 1660.5,326.9" fill="none" stroke="#ff00ff" stroke-width="0.9"/>
<polyline points="440.2,593.8 527.0,561.1 594.1,535.5 661.1,511.0 696.5,499.2 720.3,490.8 751.5,485.0 815.0,473.1 886.0,455.4 920.5,446.0 1008.5,418.7 1083.5,404.6 1092.5,402.8 1185.0,385.6 1216.5,380.8 1299.5,365.8 1320.5,362.8 1361.5,352.5 1432.5,338.4 1449.5,334.8 1493.5,322.5 1532.5,319.2 1559.5,313.8 1659.0,303.1" fill="none" stroke="#ff0000" stroke-width="0.9"/>
<rect x="4" y="182" width="1680" height="2" fill="#ff0000" />
<rect x="4" y="256" width="1680" height="2" fill="#ff0000" />
<rect x="4" y="319" width="1680" height="2" fill="#32cd32" />
<rect x="4" y="404" width="1680" height="2" fill="#4169e1" />
<rect x="4" y="499" width="1680" height="2" fill="#4169e1" />
</g>
<path d="M7 36 L14 36 L10.5 40 Z" fill="#000"/>
<text font-family="Liberation Sans" font-size="10" fill="#000" transform="translate(19,41) scale(0.92,1)" >XAUUSD-,H4&#160;&#160;1930.38 1931.95 1925.32 1926.56</text>
<text font-family="Liberation Sans" font-size="33.5" fill="#e8141c" transform="translate(1320,464.5) scale(1.0,1.08)">多空转折点1950</text>
<rect x="3" y="29" width="1682" height="1" fill="#000" />
<rect x="3" y="593" width="1682" height="1" fill="#000" />
<rect x="3" y="29" width="1" height="565" fill="#000" />
<rect x="1684" y="29" width="1" height="565" fill="#000" />
<rect x="1685" y="62" width="2" height="1" fill="#000" />
<text font-family="Liberation Sans" font-size="10" fill="#000" transform="translate(1690,66) scale(0.92,1)" >2072.40</text>
<rect x="1685" y="95" width="2" height="1" fill="#000" />
<text font-family="Liberation Sans" font-size="10" fill="#000" transform="translate(1690,99) scale(0.92,1)" >2056.65</text>
<rect x="1685" y="128" width="2" height="1" fill="#000" />
<text font-family="Liberation Sans" font-size="10" fill="#000" transform="translate(1690,132) scale(0.92,1)" >2040.90</text>
<rect x="1685" y="161" width="2" height="1" fill="#000" />
<text font-family="Liberation Sans" font-size="10" fill="#000" transform="translate(1690,165) scale(0.92,1)" >2025.15</text>
<rect x="1685" y="194" width="2" height="1" fill="#000" />
<text font-family="Liberation Sans" font-size="10" fill="#000" transform="translate(1690,198) scale(0.92,1)" >2009.85</text>
<rect x="1685" y="227" width="2" height="1" fill="#000" />
<text font-family="Liberation Sans" font-size="10" fill="#000" transform="translate(1690,231) scale(0.92,1)" >1994.10</text>
<rect x="1685" y="260" width="2" height="1" fill="#000" />
<text font-family="Liberation Sans" font-size="10" fill="#000" transform="translate(1690,264) scale(0.92,1)" >1978.35</text>
<rect x="1685" y="293" width="2" height="1" fill="#000" />
<text font-family="Liberation Sans" font-size="10" fill="#000" transform="translate(1690,297) scale(0.92,1)" >1963.05</text>
<rect x="1685" y="326" width="2" height="1" fill="#000" />
<text font-family="Liberation Sans" font-size="10" fill="#000" transform="translate(1690,330) scale(0.92,1)" >1947.30</text>
<rect x="1685" y="359" width="2" height="1" fill="#000" />
<text font-family="Liberation Sans" font-size="10" fill="#000" transform="translate(1690,363) scale(0.92,1)" >1931.55</text>
<rect x="1685" y="392" width="2" height="1" fill="#000" />
<text font-family="Liberation Sans" font-size="10" fill="#000" transform="translate(1690,396) scale(0.92,1)" >1916.25</text>
<rect x="1685" y="425" width="2" height="1" fill="#000" />
<text font-family="Liberation Sans" font-size="10" fill="#000" transform="translate(1690,429) scale(0.92,1)" >1900.50</text>
<rect x="1685" y="458" width="2" height="1" fill="#000" />
<text font-family="Liberation Sans" font-size="10" fill="#000" transform="translate(1690,462) scale(0.92,1)" >1884.75</text>
<rect x="1685" y="491" width="2" height="1" fill="#000" />
<text font-family="Liberation Sans" font-size="10" fill="#000" transform="translate(1690,495) scale(0.92,1)" >1869.45</text>
<rect x="1685" y="524" width="2" height="1" fill="#000" />
<text font-family="Liberation Sans" font-size="10" fill="#000" transform="translate(1690,528) scale(0.92,1)" >1853.70</text>
<rect x="1685" y="557" width="2" height="1" fill="#000" />
<text font-family="Liberation Sans" font-size="10" fill="#000" transform="translate(1690,561) scale(0.92,1)" >1837.95</text>
<rect x="1685" y="590" width="2" height="1" fill="#000" />
<text font-family="Liberation Sans" font-size="10" fill="#000" transform="translate(1690,594) scale(0.92,1)" >1822.65</text>
<rect x="1686" y="177" width="38" height="11" fill="#ff0000" />
<text font-family="Liberation Sans" font-size="10" fill="#fff" transform="translate(1690,186) scale(0.92,1)" >2015.00</text>
<rect x="1686" y="251" width="38" height="11" fill="#ff0000" />
<text font-family="Liberation Sans" font-size="10" fill="#fff" transform="translate(1690,260) scale(0.92,1)" >1980.00</text>
<rect x="1686" y="314" width="38" height="11" fill="#32cd32" />
<text font-family="Liberation Sans" font-size="10" fill="#fff" transform="translate(1690,323) scale(0.92,1)" >1950.00</text>
<rect x="1686" y="365" width="38" height="11" fill="#000000" />
<text font-family="Liberation Sans" font-size="10" fill="#fff" transform="translate(1690,374) scale(0.92,1)" >1926.56</text>
<rect x="1686" y="399" width="38" height="11" fill="#4169e1" />
<text font-family="Liberation Sans" font-size="10" fill="#fff" transform="translate(1690,408) scale(0.92,1)" >1910.00</text>
<rect x="1686" y="494" width="38" height="11" fill="#4169e1" />
<text font-family="Liberation Sans" font-size="10" fill="#fff" transform="translate(1690,503) scale(0.92,1)" >1865.00</text>
<rect x="3" y="595" width="1682" height="1" fill="#000" />
<rect x="3" y="754" width="1682" height="1" fill="#000" />
<rect x="3" y="595" width="1" height="160" fill="#000" />
<rect x="1684" y="595" width="1" height="160" fill="#000" />
<g clip-path="url(#cd)">
<rect x="4" y="655.1" width="1" height="17.8" fill="#c0c0c0"/>
<rect x="12" y="653.0" width="1" height="19.9" fill="#c0c0c0"/>
<rect x="20" y="651.2" width="1" height="21.6" fill="#c0c0c0"/>
<rect x="28" y="647.2" width="1" height="25.7" fill="#c0c0c0"/>
<rect x="36" y="645.0" width="1" height="27.8" fill="#c0c0c0"/>
<rect x="44" y="642.5" width="1" height="30.4" fill="#c0c0c0"/>
<rect x="52" y="639.9" width="1" height="33.0" fill="#c0c0c0"/>
<rect x="60" y="637.3" width="1" height="35.5" fill="#c0c0c0"/>
<rect x="68" y="635.5" width="1" height="37.4" fill="#c0c0c0"/>
<rect x="76" y="634.8" width="1" height="38.1" fill="#c0c0c0"/>
<rect x="84" y="633.1" width="1" height="39.8" fill="#c0c0c0"/>
<rect x="92" y="631.7" width="1" height="41.1" fill="#c0c0c0"/>
<rect x="100" y="627.5" width="1" height="45.4" fill="#c0c0c0"/>
<rect x="108" y="626.9" width="1" height="46.0" fill="#c0c0c0"/>
<rect x="116" y="627.0" width="1" height="45.9" fill="#c0c0c0"/>
<rect x="124" y="626.7" width="1" height="46.2" fill="#c0c0c0"/>
<rect x="132" y="625.6" width="1" height="47.3" fill="#c0c0c0"/>
<rect x="140" y="625.8" width="1" height="47.1" fill="#c0c0c0"/>
<rect x="148" y="625.2" width="1" height="47.6" fill="#c0c0c0"/>
<rect x="156" y="625.0" width="1" height="47.8" fill="#c0c0c0"/>
<rect x="164" y="622.9" width="1" height="49.9" fill="#c0c0c0"/>
<rect x="172" y="618.2" width="1" height="54.7" fill="#c0c0c0"/>
<rect x="180" y="614.8" width="1" height="58.0" fill="#c0c0c0"/>
<rect x="188" y="611.4" width="1" height="61.5" fill="#c0c0c0"/>
<rect x="196" y="609.9" width="1" height="63.0" fill="#c0c0c0"/>
<rect x="204" y="609.3" width="1" height="63.6" fill="#c0c0c0"/>
<rect x="212" y="604.2" width="1" height="68.7" fill="#c0c0c0"/>
<rect x="220" y="605.4" width="1" height="67.5" fill="#c0c0c0"/>
<rect x="228" y="613.3" width="1" height="59.6" fill="#c0c0c0"/>
<rect x="236" y="617.0" width="1" height="55.9" fill="#c0c0c0"/>
<rect x="244" y="615.4" width="1" height="57.5" fill="#c0c0c0"/>
<rect x="252" y="614.5" width="1" height="58.4" fill="#c0c0c0"/>
<rect x="260" y="614.2" width="1" height="58.7" fill="#c0c0c0"/>
<rect x="268" y="615.4" width="1" height="57.5" fill="#c0c0c0"/>
<rect x="276" y="616.0" width="1" height="56.8" fill="#c0c0c0"/>
<rect x="284" y="617.5" width="1" height="55.4" fill="#c0c0c0"/>
<rect x="292" y="618.8" width="1" height="54.1" fill="#c0c0c0"/>
<rect x="300" y="618.2" width="1" height="54.7" fill="#c0c0c0"/>
<rect x="308" y="619.0" width="1" height="53.8" fill="#c0c0c0"/>
<rect x="316" y="620.6" width="1" height="52.3" fill="#c0c0c0"/>
<rect x="324" y="624.2" width="1" height="48.6" fill="#c0c0c0"/>
<rect x="332" y="628.1" width="1" height="44.8" fill="#c0c0c0"/>
<rect x="340" y="632.6" width="1" height="40.2" fill="#c0c0c0"/>
<rect x="348" y="635.1" width="1" height="37.8" fill="#c0c0c0"/>
<rect x="356" y="637.2" width="1" height="35.6" fill="#c0c0c0"/>
<rect x="364" y="636.9" width="1" height="36.0" fill="#c0c0c0"/>
<rect x="372" y="635.4" width="1" height="37.5" fill="#c0c0c0"/>
<rect x="380" y="635.2" width="1" height="37.7" fill="#c0c0c0"/>
<rect x="388" y="635.8" width="1" height="37.0" fill="#c0c0c0"/>
<rect x="396" y="637.2" width="1" height="35.7" fill="#c0c0c0"/>
<rect x="404" y="636.4" width="1" height="36.5" fill="#c0c0c0"/>
<rect x="412" y="637.8" width="1" height="35.1" fill="#c0c0c0"/>
<rect x="420" y="639.5" width="1" height="33.3" fill="#c0c0c0"/>
<rect x="428" y="641.8" width="1" height="31.0" fill="#c0c0c0"/>
<rect x="436" y="644.4" width="1" height="28.5" fill="#c0c0c0"/>
<rect x="444" y="644.9" width="1" height="28.0" fill="#c0c0c0"/>
<rect x="452" y="646.0" width="1" height="26.9" fill="#c0c0c0"/>
<rect x="460" y="647.4" width="1" height="25.5" fill="#c0c0c0"/>
<rect x="468" y="648.0" width="1" height="24.9" fill="#c0c0c0"/>
<rect x="476" y="650.0" width="1" height="22.8" fill="#c0c0c0"/>
<rect x="484" y="647.0" width="1" height="25.8" fill="#c0c0c0"/>
<rect x="492" y="640.5" width="1" height="32.3" fill="#c0c0c0"/>
<rect x="500" y="633.0" width="1" height="39.8" fill="#c0c0c0"/>
<rect x="508" y="631.2" width="1" height="41.7" fill="#c0c0c0"/>
<rect x="516" y="626.0" width="1" height="46.8" fill="#c0c0c0"/>
<rect x="524" y="620.6" width="1" height="52.2" fill="#c0c0c0"/>
<rect x="532" y="616.9" width="1" height="56.0" fill="#c0c0c0"/>
<rect x="540" y="616.1" width="1" height="56.8" fill="#c0c0c0"/>
<rect x="548" y="616.1" width="1" height="56.7" fill="#c0c0c0"/>
<rect x="556" y="615.4" width="1" height="57.5" fill="#c0c0c0"/>
<rect x="564" y="615.4" width="1" height="57.5" fill="#c0c0c0"/>
<rect x="572" y="612.9" width="1" height="60.0" fill="#c0c0c0"/>
<rect x="580" y="612.0" width="1" height="60.9" fill="#c0c0c0"/>
<rect x="588" y="610.7" width="1" height="62.2" fill="#c0c0c0"/>
<rect x="596" y="609.2" width="1" height="63.7" fill="#c0c0c0"/>
<rect x="604" y="611.4" width="1" height="61.5" fill="#c0c0c0"/>
<rect x="612" y="612.1" width="1" height="60.8" fill="#c0c0c0"/>
<rect x="620" y="615.9" width="1" height="56.9" fill="#c0c0c0"/>
<rect x="628" y="624.6" width="1" height="48.3" fill="#c0c0c0"/>
<rect x="636" y="630.7" width="1" height="42.2" fill="#c0c0c0"/>
<rect x="644" y="637.1" width="1" height="35.7" fill="#c0c0c0"/>
<rect x="652" y="642.3" width="1" height="30.6" fill="#c0c0c0"/>
<rect x="660" y="646.0" width="1" height="26.8" fill="#c0c0c0"/>
<rect x="668" y="649.6" width="1" height="23.3" fill="#c0c0c0"/>
<rect x="676" y="651.8" width="1" height="21.1" fill="#c0c0c0"/>
<rect x="684" y="655.8" width="1" height="17.0" fill="#c0c0c0"/>
<rect x="692" y="658.4" width="1" height="14.4" fill="#c0c0c0"/>
<rect x="700" y="662.4" width="1" height="10.5" fill="#c0c0c0"/>
<rect x="708" y="670.7" width="1" height="2.2" fill="#c0c0c0"/>
<rect x="716" y="672.9" width="1" height="7.8" fill="#c0c0c0"/>
<rect x="724" y="672.9" width="1" height="22.5" fill="#c0c0c0"/>
<rect x="732" y="672.9" width="1" height="39.4" fill="#c0c0c0"/>
<rect x="740" y="672.9" width="1" height="53.5" fill="#c0c0c0"/>
<rect x="748" y="672.9" width="1" height="69.0" fill="#c0c0c0"/>
<rect x="756" y="672.9" width="1" height="69.7" fill="#c0c0c0"/>
<rect x="764" y="672.9" width="1" height="71.1" fill="#c0c0c0"/>
<rect x="772" y="672.9" width="1" height="68.7" fill="#c0c0c0"/>
<rect x="780" y="672.9" width="1" height="73.1" fill="#c0c0c0"/>
<rect x="788" y="672.9" width="1" height="72.7" fill="#c0c0c0"/>
<rect x="796" y="672.9" width="1" height="68.9" fill="#c0c0c0"/>
<rect x="804" y="672.9" width="1" height="66.3" fill="#c0c0c0"/>
<rect x="812" y="672.9" width="1" height="63.0" fill="#c0c0c0"/>
<rect x="820" y="672.9" width="1" height="57.0" fill="#c0c0c0"/>
<rect x="828" y="672.9" width="1" height="50.1" fill="#c0c0c0"/>
<rect x="836" y="672.9" width="1" height="43.2" fill="#c0c0c0"/>
<rect x="844" y="672.9" width="1" height="39.1" fill="#c0c0c0"/>
<rect x="852" y="672.9" width="1" height="35.7" fill="#c0c0c0"/>
<rect x="860" y="672.9" width="1" height="32.4" fill="#c0c0c0"/>
<rect x="868" y="672.9" width="1" height="30.5" fill="#c0c0c0"/>
<rect x="876" y="672.9" width="1" height="28.8" fill="#c0c0c0"/>
<rect x="884" y="672.9" width="1" height="29.2" fill="#c0c0c0"/>
<rect x="892" y="672.9" width="1" height="27.3" fill="#c0c0c0"/>
<rect x="900" y="672.9" width="1" height="22.9" fill="#c0c0c0"/>
<rect x="908" y="672.9" width="1" height="19.0" fill="#c0c0c0"/>
<rect x="916" y="672.9" width="1" height="9.6" fill="#c0c0c0"/>
<rect x="924" y="672.9" width="1" height="2.3" fill="#c0c0c0"/>
<rect x="932" y="669.7" width="1" height="3.2" fill="#c0c0c0"/>
<rect x="940" y="663.9" width="1" height="9.0" fill="#c0c0c0"/>
<rect x="948" y="656.5" width="1" height="16.3" fill="#c0c0c0"/>
<rect x="956" y="650.6" width="1" height="22.3" fill="#c0c0c0"/>
<rect x="964" y="647.2" width="1" height="25.6" fill="#c0c0c0"/>
<rect x="972" y="644.5" width="1" height="28.4" fill="#c0c0c0"/>
<rect x="980" y="642.4" width="1" height="30.4" fill="#c0c0c0"/>
<rect x="988" y="643.5" width="1" height="29.3" fill="#c0c0c0"/>
<rect x="996" y="645.9" width="1" height="27.0" fill="#c0c0c0"/>
<rect x="1004" y="648.4" width="1" height="24.4" fill="#c0c0c0"/>
<rect x="1012" y="655.4" width="1" height="17.5" fill="#c0c0c0"/>
<rect x="1020" y="665.7" width="1" height="7.2" fill="#c0c0c0"/>
<rect x="1028" y="672.9" width="1" height="3.5" fill="#c0c0c0"/>
<rect x="1036" y="672.9" width="1" height="7.3" fill="#c0c0c0"/>
<rect x="1044" y="672.9" width="1" height="13.4" fill="#c0c0c0"/>
<rect x="1052" y="672.9" width="1" height="17.3" fill="#c0c0c0"/>
<rect x="1060" y="672.9" width="1" height="18.3" fill="#c0c0c0"/>
<rect x="1068" y="672.9" width="1" height="17.6" fill="#c0c0c0"/>
<rect x="1076" y="672.9" width="1" height="17.0" fill="#c0c0c0"/>
<rect x="1084" y="672.9" width="1" height="16.9" fill="#c0c0c0"/>
<rect x="1092" y="672.9" width="1" height="18.4" fill="#c0c0c0"/>
<rect x="1100" y="672.9" width="1" height="24.4" fill="#c0c0c0"/>
<rect x="1108" y="672.9" width="1" height="24.0" fill="#c0c0c0"/>
<rect x="1116" y="672.9" width="1" height="23.4" fill="#c0c0c0"/>
<rect x="1124" y="672.9" width="1" height="23.6" fill="#c0c0c0"/>
<rect x="1132" y="672.9" width="1" height="24.2" fill="#c0c0c0"/>
<rect x="1140" y="672.9" width="1" height="21.7" fill="#c0c0c0"/>
<rect x="1148" y="672.9" width="1" height="18.5" fill="#c0c0c0"/>
<rect x="1156" y="672.9" width="1" height="19.8" fill="#c0c0c0"/>
<rect x="1164" y="672.9" width="1" height="21.2" fill="#c0c0c0"/>
<rect x="1172" y="672.9" width="1" height="21.5" fill="#c0c0c0"/>
<rect x="1180" y="672.9" width="1" height="20.1" fill="#c0c0c0"/>
<rect x="1188" y="672.9" width="1" height="19.2" fill="#c0c0c0"/>
<rect x="1196" y="672.9" width="1" height="20.1" fill="#c0c0c0"/>
<rect x="1204" y="672.9" width="1" height="21.9" fill="#c0c0c0"/>
<rect x="1212" y="672.9" width="1" height="20.9" fill="#c0c0c0"/>
<rect x="1220" y="672.9" width="1" height="19.9" fill="#c0c0c0"/>
<rect x="1228" y="672.9" width="1" height="19.7" fill="#c0c0c0"/>
<rect x="1236" y="672.9" width="1" height="21.1" fill="#c0c0c0"/>
<rect x="1244" y="672.9" width="1" height="21.8" fill="#c0c0c0"/>
<rect x="1252" y="672.9" width="1" height="17.4" fill="#c0c0c0"/>
<rect x="1260" y="672.9" width="1" height="11.4" fill="#c0c0c0"/>
<rect x="1268" y="672.9" width="1" height="6.3" fill="#c0c0c0"/>
<rect x="1276" y="672.9" width="1" height="4.5" fill="#c0c0c0"/>
<rect x="1284" y="672.9" width="1" height="2.2" fill="#c0c0c0"/>
<rect x="1292" y="672.9" width="1" height="1.6" fill="#c0c0c0"/>
<rect x="1300" y="672.9" width="1" height="3.4" fill="#c0c0c0"/>
<rect x="1308" y="672.9" width="1" height="4.7" fill="#c0c0c0"/>
<rect x="1316" y="672.9" width="1" height="6.1" fill="#c0c0c0"/>
<rect x="1324" y="672.9" width="1" height="4.4" fill="#c0c0c0"/>
<rect x="1332" y="672.9" width="1" height="1.4" fill="#c0c0c0"/>
<rect x="1340" y="669.2" width="1" height="3.6" fill="#c0c0c0"/>
<rect x="1348" y="663.9" width="1" height="8.9" fill="#c0c0c0"/>
<rect x="1356" y="660.4" width="1" height="12.5" fill="#c0c0c0"/>
<rect x="1364" y="656.4" width="1" height="16.5" fill="#c0c0c0"/>
<rect x="1372" y="654.1" width="1" height="18.8" fill="#c0c0c0"/>
<rect x="1380" y="654.8" width="1" height="18.0" fill="#c0c0c0"/>
<rect x="1388" y="654.1" width="1" height="18.8" fill="#c0c0c0"/>
<rect x="1396" y="653.0" width="1" height="19.8" fill="#c0c0c0"/>
<rect x="1404" y="652.8" width="1" height="20.0" fill="#c0c0c0"/>
<rect x="1412" y="652.8" width="1" height="20.1" fill="#c0c0c0"/>
<rect x="1420" y="649.6" width="1" height="23.2" fill="#c0c0c0"/>
<rect x="1428" y="645.9" width="1" height="27.0" fill="#c0c0c0"/>
<rect x="1436" y="643.7" width="1" height="29.1" fill="#c0c0c0"/>
<rect x="1444" y="645.7" width="1" height="27.2" fill="#c0c0c0"/>
<rect x="1452" y="648.2" width="1" height="24.6" fill="#c0c0c0"/>
<rect x="1460" y="650.0" width="1" height="22.9" fill="#c0c0c0"/>
<rect x="1468" y="653.1" width="1" height="19.8" fill="#c0c0c0"/>
<rect x="1476" y="656.5" width="1" height="16.4" fill="#c0c0c0"/>
<rect x="1484" y="659.9" width="1" height="13.0" fill="#c0c0c0"/>
<rect x="1492" y="665.8" width="1" height="7.1" fill="#c0c0c0"/>
<rect x="1500" y="670.6" width="1" height="2.3" fill="#c0c0c0"/>
<rect x="1508" y="672.9" width="1" height="1.2" fill="#c0c0c0"/>
<rect x="1516" y="672.9" width="1" height="3.7" fill="#c0c0c0"/>
<rect x="1524" y="672.9" width="1" height="7.7" fill="#c0c0c0"/>
<rect x="1532" y="672.9" width="1" height="11.0" fill="#c0c0c0"/>
<rect x="1540" y="672.9" width="1" height="15.2" fill="#c0c0c0"/>
<rect x="1548" y="672.9" width="1" height="17.6" fill="#c0c0c0"/>
<rect x="1556" y="672.9" width="1" height="19.6" fill="#c0c0c0"/>
<rect x="1564" y="672.9" width="1" height="19.1" fill="#c0c0c0"/>
<rect x="1572" y="672.9" width="1" height="18.8" fill="#c0c0c0"/>
<rect x="1580" y="672.9" width="1" height="17.4" fill="#c0c0c0"/>
<rect x="1588" y="672.9" width="1" height="20.0" fill="#c0c0c0"/>
<rect x="1596" y="672.9" width="1" height="18.7" fill="#c0c0c0"/>
<rect x="1604" y="672.9" width="1" height="17.9" fill="#c0c0c0"/>
<rect x="1612" y="672.9" width="1" height="16.7" fill="#c0c0c0"/>
<rect x="1620" y="672.9" width="1" height="16.5" fill="#c0c0c0"/>
<rect x="1628" y="672.9" width="1" height="16.8" fill="#c0c0c0"/>
<rect x="1636" y="672.9" width="1" height="16.2" fill="#c0c0c0"/>
<rect x="1644" y="672.9" width="1" height="16.2" fill="#c0c0c0"/>
<rect x="1652" y="672.9" width="1" height="15.5" fill="#c0c0c0"/>
<rect x="1660" y="672.9" width="1" height="15.6" fill="#c0c0c0"/>
<polyline points="4.5,664.8 12.5,662.7 20.5,661.0 28.5,656.9 36.5,654.8 44.5,652.2 52.5,649.6 60.5,647.1 68.5,645.2 76.5,642.9 84.5,640.7 92.5,638.6 100.5,636.4 108.5,634.3 116.5,632.6 124.5,631.2 132.5,629.9 140.5,628.8 148.5,627.7 156.5,626.8 164.5,625.8 172.5,624.8 180.5,623.5 188.5,621.7 196.5,619.9 204.5,618.1 212.5,615.7 220.5,613.5 228.5,612.2 236.5,611.5 244.5,611.2 252.5,611.1 260.5,611.5 268.5,612.1 276.5,612.8 284.5,614.3 292.5,615.8 300.5,616.3 308.5,616.6 316.5,617.1 324.5,618.2 332.5,619.8 340.5,621.7 348.5,623.8 356.5,626.0 364.5,628.0 372.5,629.9 380.5,631.7 388.5,633.4 396.5,634.8 404.5,635.8 412.5,636.3 420.5,636.8 428.5,637.3 436.5,638.2 444.5,639.2 452.5,640.4 460.5,641.7 468.5,642.9 476.5,644.4 484.5,645.4 492.5,645.6 500.5,644.6 508.5,643.1 516.5,641.0 524.5,638.2 532.5,634.8 540.5,631.3 548.5,627.5 556.5,624.0 564.5,621.2 572.5,619.0 580.5,616.8 588.5,615.1 596.5,613.8 604.5,613.2 612.5,612.8 620.5,612.8 628.5,613.8 636.5,615.5 644.5,618.2 652.5,621.5 660.5,625.5 668.5,630.0 676.5,634.4 684.5,639.3 692.5,644.0 700.5,648.2 708.5,652.7 716.5,657.5 724.5,663.4 732.5,670.8 740.5,679.3 748.5,689.3 756.5,699.0 764.5,708.5 772.5,717.3 780.5,725.6 788.5,732.9 796.5,738.0 804.5,741.0 812.5,742.0 820.5,740.7 828.5,738.5 836.5,735.4 844.5,732.1 852.5,728.0 860.5,723.5 868.5,719.2 876.5,715.0 884.5,711.3 892.5,708.0 900.5,705.0 908.5,702.3 916.5,699.0 924.5,695.3 932.5,691.4 940.5,687.0 948.5,682.0 956.5,676.2 964.5,670.4 972.5,664.7 980.5,659.2 988.5,654.8 996.5,651.6 1004.5,649.2 1012.5,648.3 1020.5,649.3 1028.5,652.2 1036.5,655.8 1044.5,660.5 1052.5,665.8 1060.5,671.1 1068.5,676.0 1076.5,680.6 1084.5,684.4 1092.5,687.3 1100.5,689.6 1108.5,691.5 1116.5,692.6 1124.5,693.3 1132.5,693.9 1140.5,694.4 1148.5,694.5 1156.5,694.9 1164.5,695.2 1172.5,694.8 1180.5,694.4 1188.5,694.0 1196.5,693.6 1204.5,693.3 1212.5,693.2 1220.5,693.4 1228.5,693.4 1236.5,693.4 1244.5,693.4 1252.5,693.1 1260.5,692.2 1268.5,690.7 1276.5,688.8 1284.5,686.7 1292.5,684.6 1300.5,682.8 1308.5,681.0 1316.5,679.3 1324.5,677.8 1332.5,676.7 1340.5,675.6 1348.5,674.1 1356.5,672.5 1364.5,670.5 1372.5,668.0 1380.5,665.5 1388.5,662.7 1396.5,660.0 1404.5,657.6 1412.5,655.8 1420.5,654.2 1428.5,652.6 1436.5,651.2 1444.5,650.3 1452.5,649.6 1460.5,649.1 1468.5,649.1 1476.5,649.5 1484.5,650.3 1492.5,652.1 1500.5,654.8 1508.5,658.2 1516.5,661.6 1524.5,665.2 1532.5,669.0 1540.5,672.9 1548.5,676.6 1556.5,680.2 1564.5,683.2 1572.5,685.5 1580.5,687.3 1588.5,689.1 1596.5,690.3 1604.5,691.1 1612.5,691.3 1620.5,691.2 1628.5,690.9 1636.5,690.5 1644.5,690.2 1652.5,690.0 1660.5,689.5" fill="none" stroke="#ff0000" stroke-width="1" stroke-dasharray="3,3"/>
</g>
<text font-family="Liberation Sans" font-size="10" fill="#000" transform="translate(8,608) scale(0.92,1)" >MACD(12,26,9) -6.087 -6.522</text>
<rect x="1685" y="597" width="2" height="1" fill="#000" />
<rect x="1685" y="673" width="2" height="1" fill="#000" />
<rect x="1685" y="753" width="2" height="1" fill="#000" />
<text font-family="Liberation Sans" font-size="10" fill="#000" transform="translate(1687,606) scale(0.92,1)" >30.204</text>
<text font-family="Liberation Sans" font-size="10" fill="#000" transform="translate(1688,677.5) scale(0.92,1)" >0.00</text>
<text font-family="Liberation Sans" font-size="10" fill="#000" transform="translate(1687,751.5) scale(0.92,1)" >-31.482</text>
<rect x="3" y="756" width="1682" height="1" fill="#000" />
<rect x="3" y="872" width="1682" height="1" fill="#000" />
<rect x="3" y="756" width="1" height="117" fill="#000" />
<rect x="1684" y="756" width="1" height="117" fill="#000" />
<g clip-path="url(#cr)">
<line x1="4" y1="792.5" x2="1684" y2="792.5" stroke="#c0c0c0" stroke-width="1" stroke-dasharray="3,3"/>
<line x1="4" y1="837.5" x2="1684" y2="837.5" stroke="#c0c0c0" stroke-width="1" stroke-dasharray="3,3"/>
<polyline points="4.5,779.6 12.5,779.1 20.5,778.5 28.5,774.5 36.5,779.1 44.5,777.4 52.5,776.1 60.5,775.1 68.5,774.7 76.5,777.6 84.5,775.3 92.5,774.6 100.5,770.9 108.5,784.0 116.5,784.5 124.5,782.9 132.5,780.8 140.5,783.7 148.5,781.6 156.5,781.2 164.5,777.6 172.5,773.8 180.5,773.5 188.5,772.3 196.5,775.1 204.5,774.9 212.5,770.5 220.5,789.9 228.5,808.1 236.5,802.6 244.5,795.5 252.5,795.0 260.5,794.7 268.5,796.9 276.5,795.5 284.5,796.4 292.5,795.6 300.5,792.1 308.5,794.5 316.5,795.5 324.5,801.9 332.5,803.6 340.5,806.8 348.5,803.1 356.5,802.7 364.5,797.1 372.5,794.1 380.5,796.1 388.5,797.7 396.5,799.3 404.5,794.3 412.5,801.1 420.5,801.9 428.5,804.3 436.5,805.9 444.5,800.7 452.5,802.4 460.5,803.7 468.5,801.1 476.5,807.3 484.5,794.6 492.5,787.3 500.5,783.8 508.5,796.2 516.5,790.5 524.5,788.2 532.5,788.1 540.5,792.9 548.5,793.2 556.5,791.1 564.5,790.9 572.5,786.5 580.5,787.9 588.5,786.2 596.5,784.6 604.5,795.0 612.5,792.2 620.5,800.8 628.5,813.9 636.5,811.3 644.5,814.2 652.5,813.3 660.5,811.9 668.5,812.7 676.5,810.5 684.5,816.4 692.5,814.3 700.5,819.0 708.5,829.8 716.5,835.2 724.5,843.3 732.5,847.7 740.5,848.7 748.5,851.8 756.5,829.5 764.5,831.1 772.5,826.4 780.5,833.2 788.5,828.4 796.5,824.2 804.5,825.5 812.5,824.7 820.5,820.3 828.5,817.8 836.5,816.3 844.5,819.1 852.5,819.5 860.5,819.0 868.5,820.8 876.5,821.1 884.5,824.6 892.5,820.4 900.5,814.6 908.5,814.4 916.5,803.3 924.5,804.0 932.5,804.4 940.5,801.8 948.5,797.4 956.5,796.8 964.5,799.9 972.5,799.2 980.5,798.7 988.5,806.1 996.5,809.4 1004.5,810.5 1012.5,822.0 1020.5,830.2 1028.5,833.9 1036.5,822.7 1044.5,827.6 1052.5,825.9 1060.5,821.8 1068.5,819.1 1076.5,819.2 1084.5,820.4 1092.5,823.8 1100.5,832.2 1108.5,821.0 1116.5,820.8 1124.5,822.7 1132.5,823.7 1140.5,817.6 1148.5,815.2 1156.5,823.1 1164.5,824.2 1172.5,822.5 1180.5,819.4 1188.5,820.0 1196.5,824.1 1204.5,826.6 1212.5,820.6 1220.5,820.6 1228.5,822.6 1236.5,826.5 1244.5,825.8 1252.5,812.7 1260.5,807.3 1268.5,806.7 1276.5,813.0 1284.5,810.9 1292.5,814.3 1300.5,820.0 1308.5,819.7 1316.5,820.7 1324.5,812.9 1332.5,809.0 1340.5,802.9 1348.5,800.2 1356.5,801.8 1364.5,799.0 1372.5,801.4 1380.5,809.0 1388.5,805.3 1396.5,803.8 1404.5,805.1 1412.5,804.9 1420.5,797.1 1428.5,794.2 1436.5,796.1 1444.5,807.7 1452.5,810.1 1460.5,808.6 1468.5,813.5 1476.5,815.5 1484.5,817.3 1492.5,825.6 1500.5,825.8 1508.5,824.7 1516.5,824.0 1524.5,829.5 1532.5,830.2 1540.5,834.4 1548.5,831.3 1556.5,832.0 1564.5,823.7 1572.5,824.6 1580.5,820.4 1588.5,831.5 1596.5,819.9 1604.5,821.2 1612.5,819.9 1620.5,822.6 1628.5,824.3 1636.5,822.0 1644.5,823.8 1652.5,821.7 1660.5,824.6" fill="none" stroke="#1e90ff" stroke-width="1"/>
</g>
<text font-family="Liberation Sans" font-size="10" fill="#000" transform="translate(8,769) scale(0.92,1)" >RSI(14) 40.8667</text>
<rect x="1685" y="758" width="2" height="1" fill="#000" />
<rect x="1685" y="792" width="2" height="1" fill="#000" />
<rect x="1685" y="837" width="2" height="1" fill="#000" />
<rect x="1685" y="871" width="2" height="1" fill="#000" />
<text font-family="Liberation Sans" font-size="10" fill="#000" transform="translate(1687.5,767.5) scale(0.92,1)" >100</text>
<text font-family="Liberation Sans" font-size="10" fill="#000" transform="translate(1687.5,797.5) scale(0.92,1)" >70</text>
<text font-family="Liberation Sans" font-size="10" fill="#000" transform="translate(1687.5,842.5) scale(0.92,1)" >30</text>
<text font-family="Liberation Sans" font-size="10" fill="#000" transform="translate(1688,870.5) scale(0.92,1)" >0</text>
<rect x="4" y="873" width="1" height="3" fill="#000" />
<text font-family="Liberation Sans" font-size="10" fill="#000" transform="translate(4,885) scale(0.92,1)" >21 Jul 2020</text>
<rect x="68" y="873" width="1" height="3" fill="#000" />
<text font-family="Liberation Sans" font-size="10" fill="#000" transform="translate(68,885) scale(0.92,1)" >22 Jul 20:00</text>
<rect x="132" y="873" width="1" height="3" fill="#000" />
<text font-family="Liberation Sans" font-size="10" fill="#000" transform="translate(132,885) scale(0.92,1)" >24 Jul 04:00</text>
<rect x="196" y="873" width="1" height="3" fill="#000" />
<text font-family="Liberation Sans" font-size="10" fill="#000" transform="translate(196,885) scale(0.92,1)" >27 Jul 12:00</text>
<rect x="260" y="873" width="1" height="3" fill="#000" />
<text font-family="Liberation Sans" font-size="10" fill="#000" transform="translate(260,885) scale(0.92,1)" >28 Jul 20:00</text>
<rect x="324" y="873" width="1" height="3" fill="#000" />
<text font-family="Liberation Sans" font-size="10" fill="#000" transform="translate(324,885) scale(0.92,1)" >30 Jul 04:00</text>
<rect x="388" y="873" width="1" height="3" fill="#000" />
<text font-family="Liberation Sans" font-size="10" fill="#000" transform="translate(388,885) scale(0.92,1)" >31 Jul 12:00</text>
<rect x="452" y="873" width="1" height="3" fill="#000" />
<text font-family="Liberation Sans" font-size="10" fill="#000" transform="translate(452,885) scale(0.92,1)" >3 Aug 20:00</text>
<rect x="516" y="873" width="1" height="3" fill="#000" />
<text font-family="Liberation Sans" font-size="10" fill="#000" transform="translate(516,885) scale(0.92,1)" >5 Aug 04:00</text>
<rect x="580" y="873" width="1" height="3" fill="#000" />
<text font-family="Liberation Sans" font-size="10" fill="#000" transform="translate(580,885) scale(0.92,1)" >6 Aug 12:00</text>
<rect x="644" y="873" width="1" height="3" fill="#000" />
<text font-family="Liberation Sans" font-size="10" fill="#000" transform="translate(644,885) scale(0.92,1)" >9 Aug 23:00</text>
<rect x="708" y="873" width="1" height="3" fill="#000" />
<text font-family="Liberation Sans" font-size="10" fill="#000" transform="translate(708,885) scale(0.92,1)" >11 Aug 04:00</text>
<rect x="772" y="873" width="1" height="3" fill="#000" />
<text font-family="Liberation Sans" font-size="10" fill="#000" transform="translate(772,885) scale(0.92,1)" >12 Aug 12:00</text>
<rect x="836" y="873" width="1" height="3" fill="#000" />
<text font-family="Liberation Sans" font-size="10" fill="#000" transform="translate(836,885) scale(0.92,1)" >13 Aug 20:00</text>
<rect x="900" y="873" width="1" height="3" fill="#000" />
<text font-family="Liberation Sans" font-size="10" fill="#000" transform="translate(900,885) scale(0.92,1)" >17 Aug 04:00</text>
<rect x="964" y="873" width="1" height="3" fill="#000" />
<text font-family="Liberation Sans" font-size="10" fill="#000" transform="translate(964,885) scale(0.92,1)" >18 Aug 12:00</text>
<rect x="1028" y="873" width="1" height="3" fill="#000" />
<text font-family="Liberation Sans" font-size="10" fill="#000" transform="translate(1028,885) scale(0.92,1)" >19 Aug 20:00</text>
<rect x="1092" y="873" width="1" height="3" fill="#000" />
<text font-family="Liberation Sans" font-size="10" fill="#000" transform="translate(1092,885) scale(0.92,1)" >21 Aug 04:00</text>
<rect x="1156" y="873" width="1" height="3" fill="#000" />
<text font-family="Liberation Sans" font-size="10" fill="#000" transform="translate(1156,885) scale(0.92,1)" >24 Aug 12:00</text>
<rect x="1220" y="873" width="1" height="3" fill="#000" />
<text font-family="Liberation Sans" font-size="10" fill="#000" transform="translate(1220,885) scale(0.92,1)" >25 Aug 20:00</text>
<rect x="1284" y="873" width="1" height="3" fill="#000" />
<text font-family="Liberation Sans" font-size="10" fill="#000" transform="translate(1284,885) scale(0.92,1)" >27 Aug 04:00</text>
<rect x="1348" y="873" width="1" height="3" fill="#000" />
<text font-family="Liberation Sans" font-size="10" fill="#000" transform="translate(1348,885) scale(0.92,1)" >28 Aug 12:00</text>
<rect x="1412" y="873" width="1" height="3" fill="#000" />
<text font-family="Liberation Sans" font-size="10" fill="#000" transform="translate(1412,885) scale(0.92,1)" >31 Aug 20:00</text>
<rect x="1476" y="873" width="1" height="3" fill="#000" />
<text font-family="Liberation Sans" font-size="10" fill="#000" transform="translate(1476,885) scale(0.92,1)" >2 Sep 04:00</text>
<rect x="1540" y="873" width="1" height="3" fill="#000" />
<text font-family="Liberation Sans" font-size="10" fill="#000" transform="translate(1540,885) scale(0.92,1)" >3 Sep 12:00</text>
<rect x="1604" y="873" width="1" height="3" fill="#000" />
<text font-family="Liberation Sans" font-size="10" fill="#000" transform="translate(1604,885) scale(0.92,1)" >6 Sep 23:00</text></svg></body></html>
